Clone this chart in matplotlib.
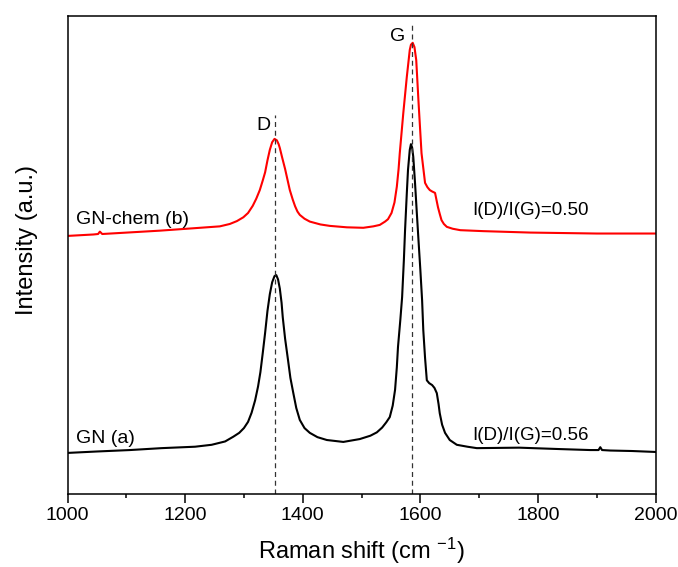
"""Raman spectra of GN and GN-chem with D and G band markers."""

import matplotlib

matplotlib.use("Agg")

import matplotlib.pyplot as plt

plt.rcParams["font.family"] = ["Liberation Sans", "DejaVu Sans"]
plt.rcParams["mathtext.default"] = "regular"

# GN (a), black trace
gn_shift = [1000, 1050, 1106, 1160, 1217, 1245, 1268, 1282, 1292, 1300, 1307,
            1313, 1319, 1324, 1328, 1332, 1336, 1340, 1344, 1348, 1352, 1355,
            1358, 1361, 1364, 1366, 1370, 1375, 1379, 1384, 1389, 1395, 1403,
            1412, 1425, 1441, 1469, 1497, 1515, 1526, 1535, 1542, 1548, 1553,
            1557, 1560, 1562, 1566, 1569, 1572, 1574, 1577, 1579, 1582, 1584,
            1586, 1588, 1591, 1594, 1597, 1600, 1603, 1605, 1608, 1611, 1615,
            1620, 1624, 1628, 1631, 1633, 1637, 1642, 1650, 1662, 1680, 1696,
            1768, 1838, 1889, 1903, 1906, 1909, 1923, 1960, 2000]
gn_int = [8.6, 8.9, 9.2, 9.6, 9.9, 10.3, 11.0, 12.0, 12.8, 13.8, 15.1,
          17.0, 19.6, 22.5, 25.5, 29.5, 33.7, 38.3, 41.8, 44.3, 45.6, 45.8,
          44.9, 43.0, 40.0, 37.0, 32.5, 28.0, 24.3, 21.1, 18.0, 15.5, 13.8,
          12.8, 11.9, 11.3, 10.9, 11.5, 12.2, 12.9, 13.9, 15.0, 16.1, 18.5,
          21.8, 26.5, 30.8, 36.5, 41.2, 49.0, 55.2, 63.0, 67.8, 72.0, 73.2,
          72.5, 70.5, 65.0, 58.8, 52.8, 46.9, 40.5, 34.3, 28.5, 23.8, 23.2,
          22.8, 22.2, 21.1, 18.8, 16.9, 14.5, 12.8, 11.3, 10.3, 9.9, 9.6,
          9.7, 9.4, 9.2, 9.2, 9.8, 9.2, 9.1, 9.0, 8.8]

# GN-chem (b), red trace
chem_shift = [1000, 1044, 1052, 1055, 1059, 1101, 1157, 1214, 1259, 1276, 1288,
              1299, 1307, 1315, 1321, 1327, 1332, 1336, 1340, 1344, 1348, 1352,
              1356, 1359, 1361, 1365, 1370, 1374, 1378, 1383, 1387, 1391, 1395,
              1403, 1412, 1430, 1446, 1475, 1503, 1520, 1531, 1540, 1545, 1551,
              1556, 1560, 1563, 1565, 1571, 1577, 1582, 1584, 1587, 1590, 1593,
              1597, 1602, 1608, 1612, 1616, 1620, 1625, 1630, 1633, 1636, 1640,
              1645, 1655, 1668, 1707, 1787, 1900, 2000]
chem_int = [54.0, 54.3, 54.4, 54.9, 54.4, 54.7, 55.1, 55.6, 56.0, 56.5, 57.1,
            57.9, 58.8, 60.3, 61.8, 63.6, 65.6, 67.3, 69.8, 72.0, 73.6, 74.3,
            74.0, 73.2, 72.4, 70.4, 68.0, 65.8, 63.6, 61.6, 60.2, 59.1, 58.4,
            57.6, 57.0, 56.4, 56.1, 55.8, 55.7, 56.0, 56.3, 57.0, 57.5, 58.8,
            61.0, 64.3, 68.0, 71.3, 79.7, 87.3, 92.9, 94.0, 94.4, 93.5, 90.8,
            81.8, 71.3, 65.1, 64.2, 63.6, 63.3, 63.0, 60.0, 58.6, 57.3, 56.5,
            55.9, 55.5, 55.2, 55.0, 54.7, 54.5, 54.5]

band_names = ["D", "G"]
band_pos = [1352, 1585]
band_top = [79.3, 98.7]
band_label_xy = [(1334, 77.2), (1561, 95.8)]

sample_labels = ["GN-chem (b)", "GN (a)"]
sample_label_y = [57.5, 11.7]
ratio_labels = ["I(D)/I(G)=0.50", "I(D)/I(G)=0.56"]
ratio_label_y = [59.4, 12.3]

fig = plt.figure(figsize=(6.78, 5.67), dpi=100)
ax = fig.add_axes([0.0996, 0.1287, 0.8673, 0.843])

ax.plot(chem_shift, chem_int, color="#ff0000", lw=1.5)
ax.plot(gn_shift, gn_int, color="black", lw=1.5)

for name, pos, top, (lx, ly) in zip(band_names, band_pos, band_top, band_label_xy):
    ax.plot([pos, pos], [0, top], color="#333333", lw=0.9, ls=(0, (4, 3)))
    ax.text(lx, ly, name, fontsize=14, ha="center", va="center")

for text, y in zip(sample_labels, sample_label_y):
    ax.text(1014, y, text, fontsize=14, ha="left", va="center")
for text, y in zip(ratio_labels, ratio_label_y):
    ax.text(1688, y, text, fontsize=13.5, ha="left", va="center")

ax.set_xlim(1000, 2000)
ax.set_ylim(0, 100)
ax.set_xticks([1000, 1200, 1400, 1600, 1800, 2000])
ax.set_xticks([1100, 1300, 1500, 1700, 1900], minor=True)
ax.set_yticks([])
ax.tick_params(axis="x", which="major", direction="out", length=6.5, width=1.1,
               labelsize=14, pad=3)
ax.tick_params(axis="x", which="minor", direction="out", length=3, width=1.1)
for spine in ax.spines.values():
    spine.set_linewidth(1.1)

ax.set_xlabel(r"Raman shift (cm $^{-1}$)", fontsize=17, va="center")
ax.xaxis.set_label_coords(0.5, -0.118)
ax.set_ylabel("Intensity (a.u.)", fontsize=17)
ax.yaxis.set_label_coords(-0.05, 0.531)

fig.savefig("out.png", dpi=100)
